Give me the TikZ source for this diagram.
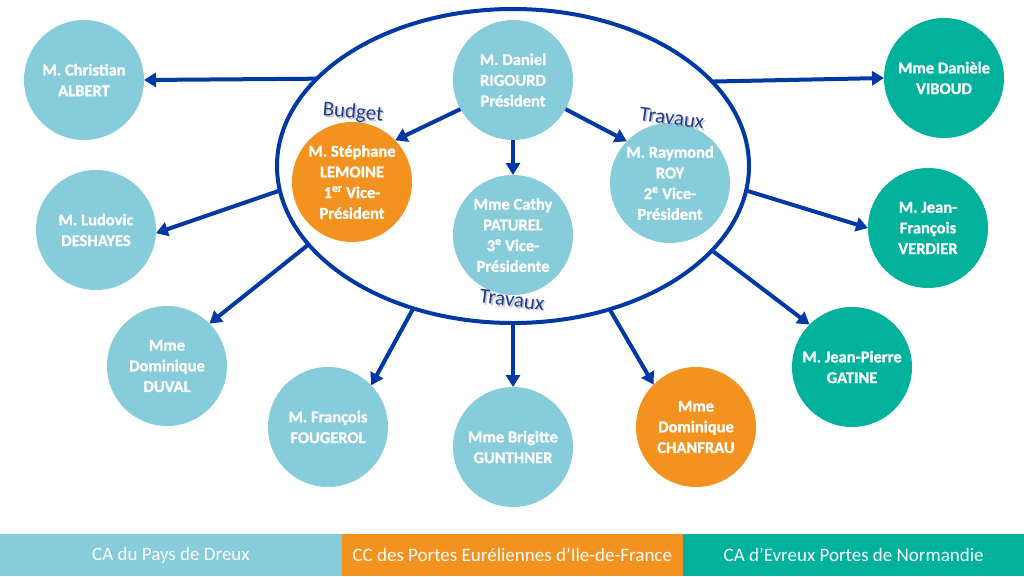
\documentclass[tikz,border=0pt]{standalone}
\usepackage{fontspec}
\setmainfont{Carlito}
\newfontfamily\circfont{Carlito}[BoldFeatures={FakeBold=1.2}]
\usetikzlibrary{arrows.meta,shapes.geometric}
\definecolor{lb}{RGB}{134,204,218}
\definecolor{org}{RGB}{243,146,30}
\definecolor{teal}{RGB}{0,178,155}
\definecolor{dblue}{RGB}{0,56,165}
\definecolor{lblue}{RGB}{30,60,150}
\tikzset{
  person/.style={circle, minimum size=120pt, inner sep=0pt, outer sep=0pt, text=white,
    font=\circfont\bfseries\fontsize{16.5}{20.7}\selectfont, align=center},
  arr/.style={draw=dblue, line width=4pt, -{Triangle[length=12pt,width=14pt]}},
  legend/.style={minimum width=341.5pt, minimum height=42pt, inner sep=0pt, text=white,
    font=\fontsize{19}{20}\selectfont},
  lab/.style={text=lblue, font=\fontsize{21}{22}\selectfont, inner sep=0pt},
  labshadow/.style={text=black!45, opacity=0.5, font=\fontsize{21}{22}\selectfont, inner sep=0pt}
}
\begin{document}
\begin{tikzpicture}[x=1pt,y=-1pt]
\useasboundingbox (0,0) rectangle (1024,576);
\fill[white] (0,0) rectangle (1024,576);
% big ellipse
\node[ellipse, draw=dblue, line width=4pt, minimum width=472pt, minimum height=314pt,
  inner sep=0pt, outer sep=0pt] (E) at (513,166) {};
% inner circles
\node[person, fill=lb] (RIG) at (513,80) {M. Daniel\\RIGOURD\\Président};
\node[person, fill=org] (LEM) at (352,182) {M. Stéphane\\LEMOINE\\1\textsuperscript{er} Vice-\\Président};
\node[person, fill=lb] (PAT) at (513,235) {Mme Cathy\\PATUREL\\3\textsuperscript{e} Vice-\\Présidente};
\node[person, fill=lb] (ROY) at (670,183) {M. Raymond\\ROY\\2\textsuperscript{e} Vice-\\Président};
% outer circles
\node[person, fill=lb] (ALB) at (84,80) {M. Christian\\ALBERT};
\node[person, fill=lb] (DES) at (96,230) {M. Ludovic\\DESHAYES};
\node[person, fill=lb] (DUV) at (167,366) {Mme\\Dominique\\DUVAL};
\node[person, fill=lb] (FOU) at (328,427) {M. François\\FOUGEROL};
\node[person, fill=lb] (GUN) at (513,447) {Mme Brigitte\\GUNTHNER};
\node[person, fill=org] (CHA) at (696,427) {Mme\\Dominique\\CHANFRAU};
\node[person, fill=teal] (GAT) at (852,367) {M. Jean-Pierre\\GATINE};
\node[person, fill=teal] (VER) at (928,228) {M. Jean-\\François\\VERDIER};
\node[person, fill=teal] (VIB) at (944,78) {Mme Danièle\\VIBOUD};
% inner arrows
\draw[arr] (RIG.-151) -- (LEM.44);
\draw[arr] (RIG.-90) -- (PAT.90);
\draw[arr] (RIG.-29.5) -- (ROY.136);
% outer arrows
\draw[arr] (E.156.7) -- (ALB.0);
\draw[arr] (E.186) -- (DES.-3);
\draw[arr] (E.201.8) -- (DUV.45);
\draw[arr] (E.235.6) -- (FOU.44);
\draw[arr] (E.270) -- (GUN.90);
\draw[arr] (E.304.1) -- (CHA.135);
\draw[arr] (E.337.6) -- (GAT.135);
\draw[arr] (E.354.5) -- (VER.180);
\draw[arr] (E.23.5) -- (VIB.180);
% labels
\node[labshadow, rotate=-5] at (354.5,114.5) {Budget};
\node[lab, rotate=-5] (budget) at (353,113) {Budget};
\node[labshadow, rotate=-8] at (673.5,119.5) {Travaux};
\node[lab, rotate=-8] (trav1) at (672,118) {Travaux};
\node[labshadow, rotate=-7] at (513.5,301.5) {Travaux};
\node[lab, rotate=-7] (trav2) at (512,300) {Travaux};
% legend bar
\node[legend, fill=lb, anchor=north west] (L1) at (0,534) {CA du Pays de Dreux};
\node[legend, fill=org, anchor=north west] (L2) at (341.3,534) {CC des Portes Euréliennes d’Ile-de-France};
\node[legend, fill=teal, anchor=north west] (L3) at (682.7,534) {CA d’Evreux Portes de Normandie};
\end{tikzpicture}
\end{document}
